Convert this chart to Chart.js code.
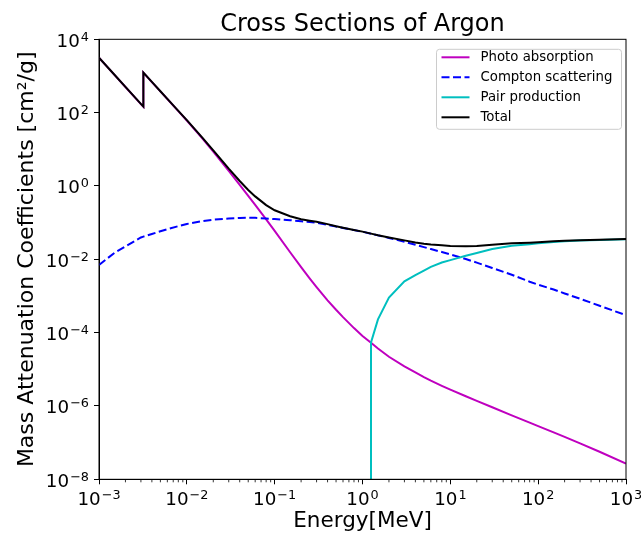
<!DOCTYPE html>
<html>
<head>
<meta charset="utf-8">
<script src="https://cdn.jsdelivr.net/npm/chart.js@4/dist/chart.umd.min.js"></script>
<style>
  html, body { margin: 0; padding: 0; background: #fff; }
  #chart { display: block; }
</style>
</head>
<body>
<canvas id="chart" width="641" height="533"></canvas>
<script>
// Energies in MeV; the K edge at 3.2 keV appears twice so the jump is vertical
const ENERGIES = [0.001, 0.0015, 0.002, 0.003, 0.0032, 0.0032, 0.004, 0.005, 0.006, 0.008,
  0.01, 0.015, 0.02, 0.03, 0.04, 0.05, 0.06, 0.08, 0.1, 0.15,
  0.2, 0.25, 0.3, 0.4, 0.5, 0.6, 0.8, 1, 1.25, 1.5,
  2, 3, 4, 5, 6, 8, 10, 15, 20, 30,
  50, 80, 100, 150, 200, 300, 500, 1000];

// mass attenuation coefficients, cm^2/g
const PHOTO = [3150, 1075, 500, 171, 145, 1230, 682, 379, 235, 110,
  61, 20.0, 8.68, 2.57, 1.07, 0.536, 0.304, 0.123, 0.0594, 0.0156,
  6.1e-3, 3.03e-3, 1.75e-3, 7.6e-4, 4.2e-4, 2.65e-4, 1.33e-4, 8.1e-5, 5.3e-5, 3.7e-5,
  2.2e-5, 1.2e-5, 8.2e-6, 6.1e-6, 4.9e-6, 3.55e-6, 2.8e-6, 1.84e-6, 1.38e-6, 9.2e-7,
  5.55e-7, 3.5e-7, 2.82e-7, 1.9e-7, 1.43e-7, 9.5e-8, 5.65e-8, 2.7e-8];

const COMPTON = [0.0070, 0.0150, 0.0225, 0.0395, 0.0415, 0.0415, 0.049, 0.058, 0.066, 0.080,
  0.092, 0.110, 0.120, 0.130, 0.134, 0.136, 0.135, 0.130, 0.125, 0.117,
  0.109, 0.104, 0.099, 0.0875, 0.078, 0.0716, 0.0625, 0.0565, 0.0499, 0.045,
  0.0383, 0.0302, 0.0249, 0.0215, 0.019, 0.0158, 0.0136, 0.0102, 0.0081, 0.0058,
  0.0038, 0.00245, 0.00203, 0.0015, 0.00117, 0.00084, 0.00054, 0.0003];

const TOTAL = [3160, 1080, 505, 173, 147, 1240, 688, 383, 238, 112,
  62.5, 20.8, 9.4, 2.98, 1.37, 0.78, 0.52, 0.30, 0.217, 0.149,
  0.124, 0.113, 0.105, 0.091, 0.080, 0.0728, 0.0631, 0.0569, 0.0502, 0.0453,
  0.0393, 0.0328, 0.0287, 0.0265, 0.0253, 0.0241, 0.0232, 0.0228, 0.0230, 0.0248,
  0.0272, 0.0284, 0.0293, 0.0311, 0.0322, 0.0333, 0.0342, 0.0358];

// pair production starts at threshold; first value sits on the axis floor
const PAIR_ENERGIES = [1.25, 1.25, 1.5, 2, 3, 4, 5, 6, 8, 10, 15, 20, 30, 50, 80, 100, 150, 200, 300, 500, 1000];
const PAIR = [1e-8, 5.4e-5, 2.3e-4, 9.0e-4, 2.5e-3, 3.7e-3, 4.9e-3, 6.2e-3, 8.2e-3, 9.5e-3,
  1.25e-2, 1.48e-2, 1.9e-2, 2.34e-2, 2.59e-2, 2.72e-2, 2.96e-2, 3.1e-2, 3.25e-2, 3.37e-2, 3.55e-2];

const X_TICKS = [1e-3, 1e-2, 1e-1, 1e0, 1e1, 1e2, 1e3];
const Y_TICKS = [1e-8, 1e-6, 1e-4, 1e-2, 1e0, 1e2, 1e4];

const MAGENTA = "#bf00bf";
const BLUE = "#0000ff";
const CYAN = "#00bfbf";
const BLACK = "#000000";
const FONT = "'DejaVu Sans', sans-serif";

Chart.defaults.font.family = FONT;
Chart.defaults.color = BLACK;

function toPoints(xs, ys) {
  return xs.map((x, i) => ({ x: x, y: ys[i] }));
}

// "10" with a raised exponent, anchored at its right edge or its centre
function drawPower(ctx, value, x, baseline, align) {
  var exponent = String(Math.round(Math.log10(value))).replace("-", "\u2212");
  ctx.font = "18.3px " + FONT;
  var baseWidth = ctx.measureText("10").width;
  ctx.font = "12.8px " + FONT;
  var expWidth = ctx.measureText(exponent).width;
  var width = baseWidth + 1 + expWidth;
  var left = align === "right" ? x - width : x - width / 2;

  ctx.font = "18.3px " + FONT;
  ctx.fillText("10", left, baseline);
  ctx.font = "12.8px " + FONT;
  ctx.fillText(exponent, left + baseWidth + 1, baseline - 6);
}

const powerLabels = {
  id: "powerLabels",
  afterDraw(chart) {
    const ctx = chart.ctx;
    const area = chart.chartArea;
    ctx.save();
    ctx.fillStyle = BLACK;
    ctx.textAlign = "left";
    ctx.textBaseline = "alphabetic";
    X_TICKS.forEach(v => {
      drawPower(ctx, v, chart.scales.x.getPixelForValue(v), area.bottom + 26, "center");
    });
    Y_TICKS.forEach(v => {
      drawPower(ctx, v, area.left - 10, chart.scales.y.getPixelForValue(v) + 7.2, "right");
    });
    ctx.restore();
  }
};

// frame on all four sides plus the small ticks between decades
const axesFrame = {
  id: "axesFrame",
  afterDatasetsDraw(chart) {
    const ctx = chart.ctx;
    const area = chart.chartArea;
    const xScale = chart.scales.x;

    ctx.save();
    ctx.strokeStyle = BLACK;
    ctx.lineWidth = 0.8;
    ctx.beginPath();
    for (let d = -3; d < 3; d++) {
      for (let k = 2; k < 10; k++) {
        const px = xScale.getPixelForValue(k * Math.pow(10, d));
        ctx.moveTo(px, area.bottom);
        ctx.lineTo(px, area.bottom + 3);
      }
    }
    ctx.stroke();

    ctx.lineWidth = 1;
    ctx.strokeRect(area.left, area.top, area.right - area.left, area.bottom - area.top);
    ctx.restore();
  }
};

// boxed legend tucked into the upper right corner of the plot
const cornerLegend = {
  id: "cornerLegend",
  afterDraw(chart) {
    const ctx = chart.ctx;
    const area = chart.chartArea;
    const datasets = chart.data.datasets;
    const width = 185;
    const rowHeight = 20;
    const right = area.right - 4.5;
    const left = right - width;
    const top = area.top + 10;
    const height = datasets.length * rowHeight;

    ctx.save();
    ctx.beginPath();
    if (ctx.roundRect) {
      ctx.roundRect(left, top, width, height, 3);
    } else {
      ctx.rect(left, top, width, height);
    }
    ctx.fillStyle = "rgba(255, 255, 255, 0.8)";
    ctx.fill();
    ctx.strokeStyle = "#cccccc";
    ctx.lineWidth = 1;
    ctx.stroke();

    ctx.font = "13.3px " + FONT;
    ctx.textBaseline = "middle";
    ctx.textAlign = "left";

    datasets.forEach((ds, i) => {
      const y = top + 8 + i * rowHeight;
      ctx.beginPath();
      ctx.setLineDash(ds.borderDash || []);
      ctx.strokeStyle = ds.borderColor;
      ctx.lineWidth = 2;
      ctx.moveTo(left + 5, y);
      ctx.lineTo(left + 33, y);
      ctx.stroke();
      ctx.setLineDash([]);
      ctx.fillStyle = BLACK;
      ctx.fillText(ds.label, left + 44, y);
    });
    ctx.restore();
  }
};

new Chart("chart", {
  type: "line",
  data: {
    datasets: [
      { label: "Photo absorption", data: toPoints(ENERGIES, PHOTO), borderColor: MAGENTA, order: 4 },
      { label: "Compton scattering", data: toPoints(ENERGIES, COMPTON), borderColor: BLUE, borderDash: [8, 3.5], order: 3 },
      { label: "Pair production", data: toPoints(PAIR_ENERGIES, PAIR), borderColor: CYAN, order: 2 },
      { label: "Total", data: toPoints(ENERGIES, TOTAL), borderColor: BLACK, order: 1 }
    ]
  },
  options: {
    responsive: false,
    animation: false,
    devicePixelRatio: 1,
    layout: { padding: { left: 4, right: 15, top: 0, bottom: 0 } },
    elements: {
      point: { radius: 0 },
      line: { borderWidth: 2, tension: 0, fill: false }
    },
    plugins: {
      legend: { display: false },
      tooltip: { enabled: false },
      title: {
        display: true,
        text: "Cross Sections of Argon",
        fullSize: false,
        color: BLACK,
        font: { size: 24, weight: "normal", lineHeight: 1.15 },
        padding: { top: 11, bottom: 0.7 }
      }
    },
    scales: {
      x: {
        type: "logarithmic",
        min: 1e-3,
        max: 1e3,
        afterBuildTicks: scale => { scale.ticks = X_TICKS.map(v => ({ value: v })); },
        afterFit: scale => {
          scale.height = 53.7;
          scale.paddingLeft = 0;
          scale.paddingRight = 0;
        },
        ticks: { display: false, autoSkip: false },
        grid: { drawOnChartArea: false, tickLength: 5, tickColor: BLACK, tickWidth: 1 },
        border: { color: BLACK, width: 1 },
        title: {
          display: true,
          text: "Energy[MeV]",
          color: BLACK,
          font: { size: 21.5, lineHeight: 1.1 },
          padding: { top: 0, bottom: 0 }
        }
      },
      y: {
        type: "logarithmic",
        min: 1e-8,
        max: 1e4,
        afterBuildTicks: scale => { scale.ticks = Y_TICKS.map(v => ({ value: v })); },
        afterFit: scale => {
          scale.width = 95;
          scale.paddingTop = 0;
          scale.paddingBottom = 0;
        },
        ticks: { display: false, autoSkip: false },
        grid: { drawOnChartArea: false, tickLength: 5, tickColor: BLACK, tickWidth: 1 },
        border: { color: BLACK, width: 1 },
        title: {
          display: true,
          text: "Mass Attenuation Coefficients [cm\u00b2/g]",
          color: BLACK,
          font: { size: 22, lineHeight: 1.2 },
          padding: { top: 10, bottom: 0 }
        }
      }
    }
  },
  plugins: [axesFrame, powerLabels, cornerLegend]
});
</script>
</body>
</html>
